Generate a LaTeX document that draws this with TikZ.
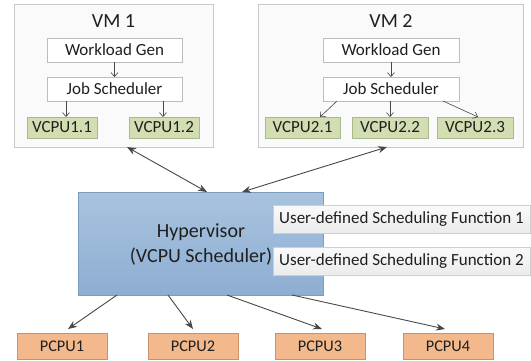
\documentclass[tikz,border=0pt]{standalone}
\usepackage{fontspec}
\setmainfont{Carlito}
\usetikzlibrary{arrows.meta}
\definecolor{txt}{HTML}{1F1F1F}
\definecolor{ln}{HTML}{474747}
\definecolor{vmborder}{HTML}{C8C8C8}
\definecolor{vmfill}{HTML}{FAFAFA}
\definecolor{inborder}{HTML}{BDBDBD}
\definecolor{vcpufill}{HTML}{D2DEB2}
\definecolor{vcpuborder}{HTML}{A9B98E}
\definecolor{pcpufill}{HTML}{F3B98C}
\definecolor{pcpuborder}{HTML}{C99268}
\definecolor{hyptop}{HTML}{A8C3DF}
\definecolor{hypbot}{HTML}{8EAED2}
\definecolor{hypborder}{HTML}{7E9CBC}
\definecolor{udtop}{HTML}{FAFAFA}
\definecolor{udbot}{HTML}{EBEBEB}
\definecolor{udborder}{HTML}{CFCFCF}
\tikzset{
  box/.style={rectangle, inner sep=0pt, outer sep=0pt, text=txt, align=center},
  vmbox/.style={box, draw=vmborder, fill=vmfill, line width=0.8pt},
  inbox/.style={box, draw=inborder, fill=white, line width=0.7pt, font=\fontsize{17}{20}\selectfont},
  vcpubox/.style={box, draw=vcpuborder, fill=vcpufill, line width=0.7pt, minimum height=21pt, font=\fontsize{17}{20}\selectfont},
  pcpubox/.style={box, draw=pcpuborder, fill=pcpufill, line width=0.7pt, minimum width=90pt, minimum height=26pt, font=\fontsize{16.3}{19}\selectfont},
  hypbox/.style={box, draw=hypborder, top color=hyptop, bottom color=hypbot, line width=0.8pt},
  udbox/.style={box, draw=udborder, top color=udtop, bottom color=udbot, line width=0.7pt, minimum width=257pt, minimum height=28pt, font=\fontsize{17}{19}\selectfont},
  title/.style={text=txt, inner sep=0pt, font=\fontsize{20}{22}\selectfont},
  bigarr/.style={draw=ln, line width=0.9pt, -{Stealth[length=9pt,width=7pt]}},
  bigdarr/.style={draw=ln, line width=0.9pt, {Stealth[length=9pt,width=7pt]}-{Stealth[length=9pt,width=7pt]}},
  smallarr/.style={draw=ln, line width=0.6pt, -{Straight Barb[length=4pt,width=7pt]}},
}
\begin{document}
\begin{tikzpicture}[x=1pt,y=-1pt]
\useasboundingbox[fill=white] (0,0) rectangle (531,360);
% VM 1
\node[vmbox, minimum width=199pt, minimum height=143pt] (vm1) at (113.5,75.5) {};
\node[title] (vm1t) at (113.5,21) {VM 1};
\node[inbox, minimum width=135pt, minimum height=24pt] (wg1) at (114.5,50) {Workload Gen};
\node[inbox, minimum width=135pt, minimum height=24pt] (js1) at (114.5,89) {Job Scheduler};
\node[vcpubox, minimum width=70pt] (v11) at (62,127.5) {VCPU1.1};
\node[vcpubox, minimum width=70pt] (v12) at (164,127.5) {VCPU1.2};
% VM 2
\node[vmbox, minimum width=265pt, minimum height=143pt] (vm2) at (390.5,75.5) {};
\node[title] (vm2t) at (391,21) {VM 2};
\node[inbox, minimum width=136pt, minimum height=24pt] (wg2) at (391,50) {Workload Gen};
\node[inbox, minimum width=136pt, minimum height=24pt] (js2) at (391,89) {Job Scheduler};
\node[vcpubox, minimum width=75pt] (v21) at (302.5,127.5) {VCPU2.1};
\node[vcpubox, minimum width=76pt] (v22) at (390,127.5) {VCPU2.2};
\node[vcpubox, minimum width=76pt] (v23) at (475,127.5) {VCPU2.3};
% Hypervisor
\node[hypbox, minimum width=245pt, minimum height=103pt] (hyp) at (200.5,243.5) {};
\node[text=txt, inner sep=0pt, font=\fontsize{20}{25}\selectfont, align=center] (hypt) at (201,244.5) {Hypervisor\\(VCPU Scheduler)};
\node[udbox] (ud1) at (401.5,219) {User-defined Scheduling Function 1};
\node[udbox] (ud2) at (401.5,261) {User-defined Scheduling Function 2};
% PCPUs
\node[pcpubox] (p1) at (62,346) {PCPU1};
\node[pcpubox] (p2) at (193,346) {PCPU2};
\node[pcpubox] (p3) at (320,346) {PCPU3};
\node[pcpubox] (p4) at (448,346) {PCPU4};
% arrows inside VMs
\draw[smallarr] (wg1.south) -- (js1.north);
\draw[smallarr] ([xshift=-48.5pt]js1.south) -- ([xshift=4pt]v11.north);
\draw[smallarr] ([xshift=48.5pt]js1.south) -- ([xshift=-1pt]v12.north);
\draw[smallarr] (wg2.south) -- (js2.north);
\draw[smallarr] ([xshift=14pt]js2.south west) -- ([xshift=17.5pt]v21.north);
\draw[smallarr] (js2.south -| v22.north) -- (v22.north);
\draw[smallarr] ([xshift=-16pt]js2.south east) -- ([xshift=3pt]v23.north);
% hypervisor <-> VMs
\draw[bigdarr] ([xshift=129pt]hyp.north west) -- ([xshift=13.5pt]vm1.south);
\draw[bigdarr] ([xshift=164pt]hyp.north west) -- ([xshift=-3.5pt]vm2.south);
% hypervisor -> PCPUs
\draw[bigarr] ([xshift=39pt]hyp.south west) -- ([xshift=6pt,yshift=4pt]p1.north);
\draw[bigarr] ([xshift=90pt]hyp.south west) -- ([yshift=4pt]p2.north);
\draw[bigarr] ([xshift=149pt]hyp.south west) -- ([xshift=2pt,yshift=4pt]p3.north);
\draw[bigarr] ([xshift=214pt]hyp.south west) -- ([xshift=-3pt,yshift=4pt]p4.north);
\end{tikzpicture}
\end{document}
